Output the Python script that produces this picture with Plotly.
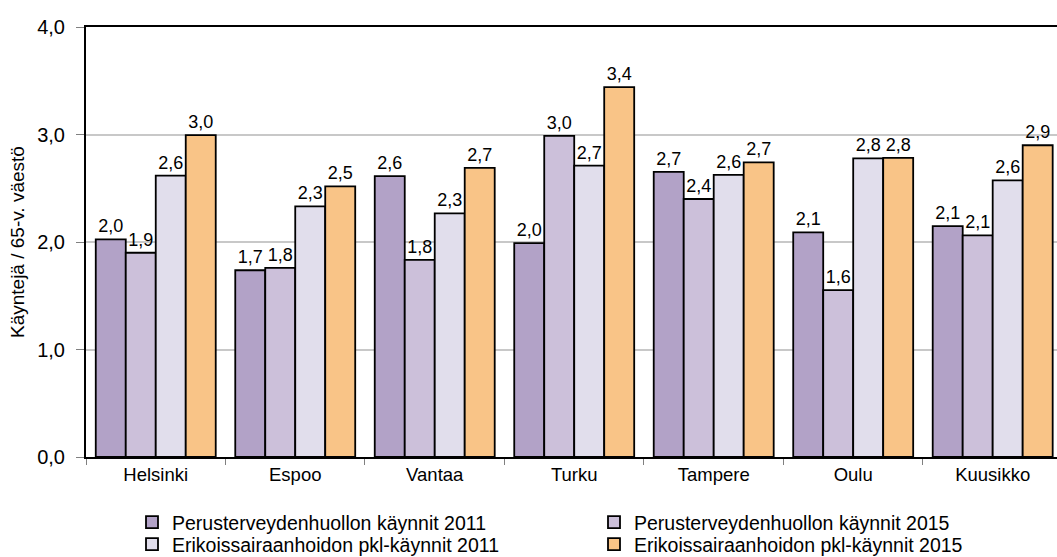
import plotly.graph_objects as go

categories = ["Helsinki", "Espoo", "Vantaa", "Turku", "Tampere", "Oulu", "Kuusikko"]
perus_2011 = [2.025, 1.737, 2.613, 1.99, 2.653, 2.09, 2.147]
perus_2015 = [1.90, 1.759, 1.833, 2.988, 2.40, 1.553, 2.062]
erik_2011 = [2.617, 2.331, 2.266, 2.71, 2.625, 2.777, 2.573]
erik_2015 = [2.995, 2.517, 2.69, 3.44, 2.74, 2.783, 2.90]

series = [
    ("Perusterveydenhuollon käynnit 2011", perus_2011, "#B2A2C7", "legend"),
    ("Perusterveydenhuollon käynnit 2015", perus_2015, "#CCC0DA", "legend2"),
    ("Erikoissairaanhoidon pkl-käynnit 2011", erik_2011, "#E1DEEC", "legend3"),
    ("Erikoissairaanhoidon pkl-käynnit 2015", erik_2015, "#F9C487", "legend4"),
]

FONT = "Liberation Sans, Arial, sans-serif"
W, H = 1057, 557
L, T, B = 86, 27, 100
PW = W - L

fig = go.Figure()
for name, vals, color, lg in series:
    fig.add_trace(go.Bar(
        x=categories, y=vals, name=name,
        marker=dict(color=color, line=dict(color="black", width=1.8)),
        texttemplate="%{y:.1f}", textposition="outside",
        textfont=dict(size=18, color="black", family=FONT),
        cliponaxis=False, constraintext="none",
        legend=lg,
    ))

legend_common = dict(
    xref="container", yref="container", xanchor="left", yanchor="top",
    orientation="v", font=dict(size=19.5), tracegroupgap=0,
    itemwidth=30, bgcolor="rgba(0,0,0,0)",
)

fig.update_layout(
    width=W, height=H,
    margin=dict(l=L, r=0, t=T, b=B, autoexpand=False),
    paper_bgcolor="white", plot_bgcolor="white",
    separators=", ",
    barmode="group", bargap=0.14, bargroupgap=0,
    font=dict(family=FONT, size=18, color="black"),
    showlegend=True,
    legend=dict(x=132 / W, y=1 - 503 / H, **legend_common),
    legend2=dict(x=594 / W, y=1 - 503 / H, **legend_common),
    legend3=dict(x=132 / W, y=1 - 525 / H, **legend_common),
    legend4=dict(x=594 / W, y=1 - 525 / H, **legend_common),
    annotations=[dict(
        text="Käyntejä / 65-v. väestö", textangle=-90,
        xref="paper", yref="paper", x=-(L - 17) / PW, y=0.5,
        xanchor="center", yanchor="middle", showarrow=False,
        font=dict(size=19, family=FONT, color="black"),
    )],
)
fig.update_xaxes(
    range=[-0.5, 6.461], automargin=False,
    showline=True, linecolor="black", linewidth=2, mirror=True,
    ticks="outside", tickson="boundaries", ticklen=6, tickcolor="#808080",
    tickfont=dict(size=18.5), showgrid=False,
)
fig.update_yaxes(
    range=[0, 4], dtick=1, tickformat=".1f", automargin=False,
    showline=True, linecolor="black", linewidth=2,
    ticks="outside", ticklen=8, tickcolor="#808080", ticklabelstandoff=7,
    tickfont=dict(size=20),
    showgrid=True, gridcolor="#C8C8C8", gridwidth=1.5,
    zeroline=False,
)

fig.write_html(
    "out.html",
    config={"displayModeBar": False},
    post_script="document.body.style.margin='0';document.body.style.overflow='hidden';",
)
